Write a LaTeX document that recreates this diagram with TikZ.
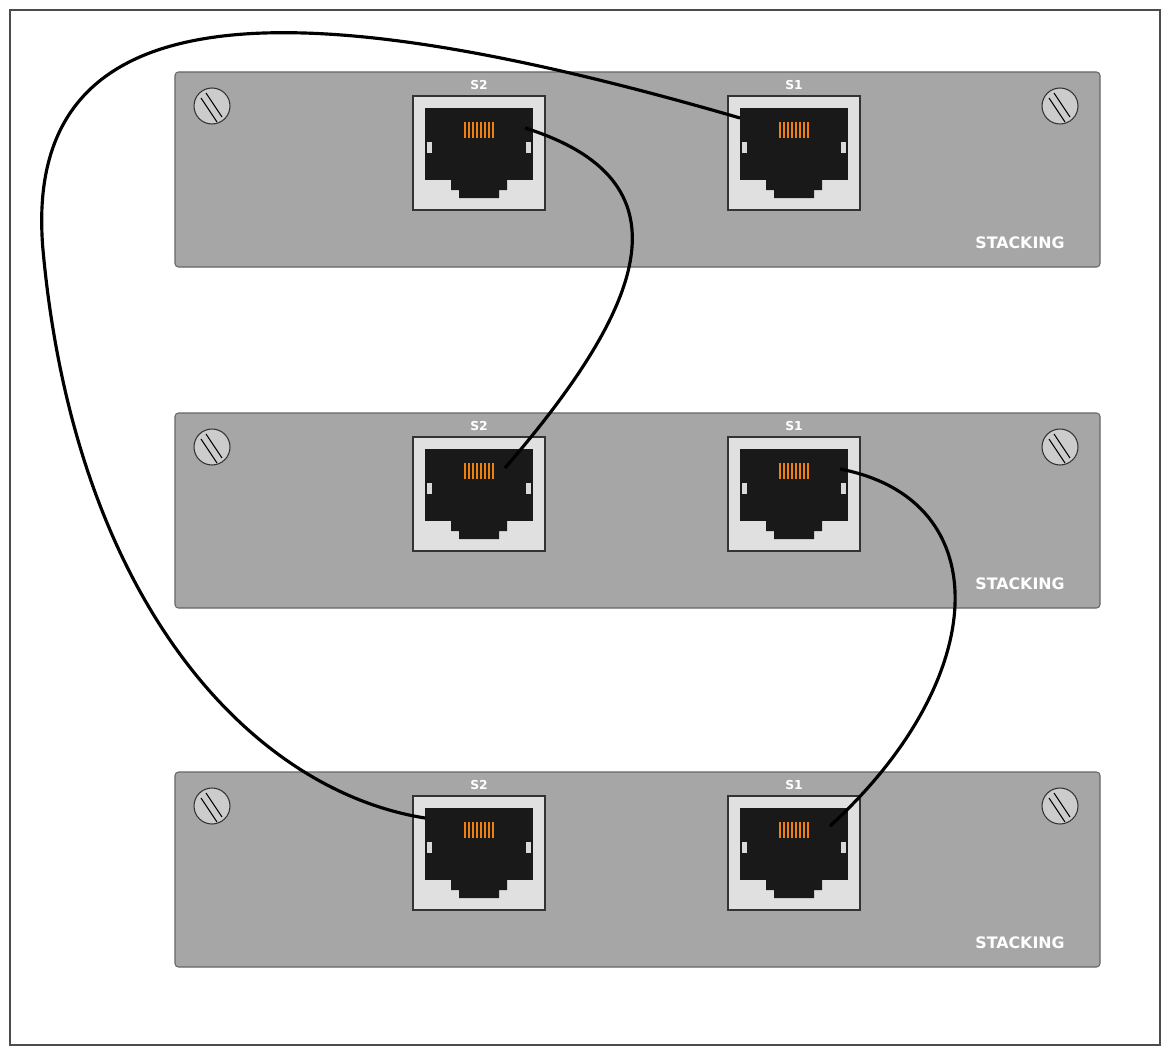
\documentclass[tikz,border=0pt]{standalone}
\usepackage{fontspec}
\setmainfont{DejaVu Sans}
\usetikzlibrary{calc}
\begin{document}
\begin{tikzpicture}[x=0.02cm, y=-0.02cm, thick, font=\bfseries]
        \tikzstyle{panel} = [draw=black!60, fill=black!35, rounded corners=2pt, line width=0.6pt]
        \tikzstyle{port} = [draw=black!80, fill=black!12, line width=0.8pt, minimum width=2.64cm, minimum height=2.28cm, inner sep=0pt]
        \tikzstyle{screw} = [draw=black!80, fill=black!20, line width=0.6pt, circle, minimum size=0.72cm, inner sep=0pt]
        \tikzstyle{cable} = [draw=black, line width=1.8pt]

        % cadre
        \useasboundingbox (0,0) rectangle (1168,1051);
        \draw[line width=0.6pt, draw=black!70] (10,10) rectangle (1160,1045);

        % Panneaux
        \foreach \n/\y in {a/72, b/413, c/772} {
            \draw[panel] (175,\y) rectangle (1100,\y+195);
            \node[screw] (screwL\n) at (212,\y+34) {};
            \node[screw] (screwR\n) at (1060,\y+34) {};
            \draw[line width=0.6pt] ($(screwL\n)+(-6,-13)$) -- ($(screwL\n)+(10,11)$) ($(screwL\n)+(-11,-8)$) -- ($(screwL\n)+(5,16)$);
            \draw[line width=0.6pt] ($(screwR\n)+(-6,-13)$) -- ($(screwR\n)+(10,11)$) ($(screwR\n)+(-11,-8)$) -- ($(screwR\n)+(5,16)$);
            \node[text=white, font=\bfseries\small] at (1020,\y+171) {STACKING};
            \foreach \p/\x in {s2/479, s1/794} {
                \node[port] (\p\n) at (\x,\y+81) {};
                \fill[black!90] (\x-54,\y+36) rectangle (\x+54,\y+108);
                \fill[black!90] (\x-28,\y+108) -- (\x-28,\y+118) -- (\x-20,\y+118) -- (\x-20,\y+126)
                    -- (\x+20,\y+126) -- (\x+20,\y+118) -- (\x+28,\y+118) -- (\x+28,\y+108) -- cycle;
                \fill[white!85!black] (\x-52,\y+70) rectangle (\x-47,\y+81);
                \fill[white!85!black] (\x+47,\y+70) rectangle (\x+52,\y+81);
                \foreach \k in {-12,-8,...,16}
                    \draw[orange!70!brown, line width=0.9pt] (\x+\k-2,\y+50) -- (\x+\k-2,\y+66);
                \coordinate (\p\n L) at (\x-54,\y+46);
                \coordinate (\p\n R) at (\x+46,\y+56);
            }
            \node[text=white, font=\bfseries\scriptsize] at (479,\y+13) {S2};
            \node[text=white, font=\bfseries\scriptsize] at (794,\y+13) {S1};
        }

        % Câbles
        \draw[cable] (s1aL) .. controls (300,-10) and (20,-15) .. (43,250) .. controls (75,600) and (250,790) .. (s2cL);
        \draw[cable] (s2aR) .. controls (690,180) and (650,300) .. (505,468);
        \draw[cable] (s1bR) .. controls (1000,500) and (990,680) .. (830,826);
    \end{tikzpicture}
\end{document}
